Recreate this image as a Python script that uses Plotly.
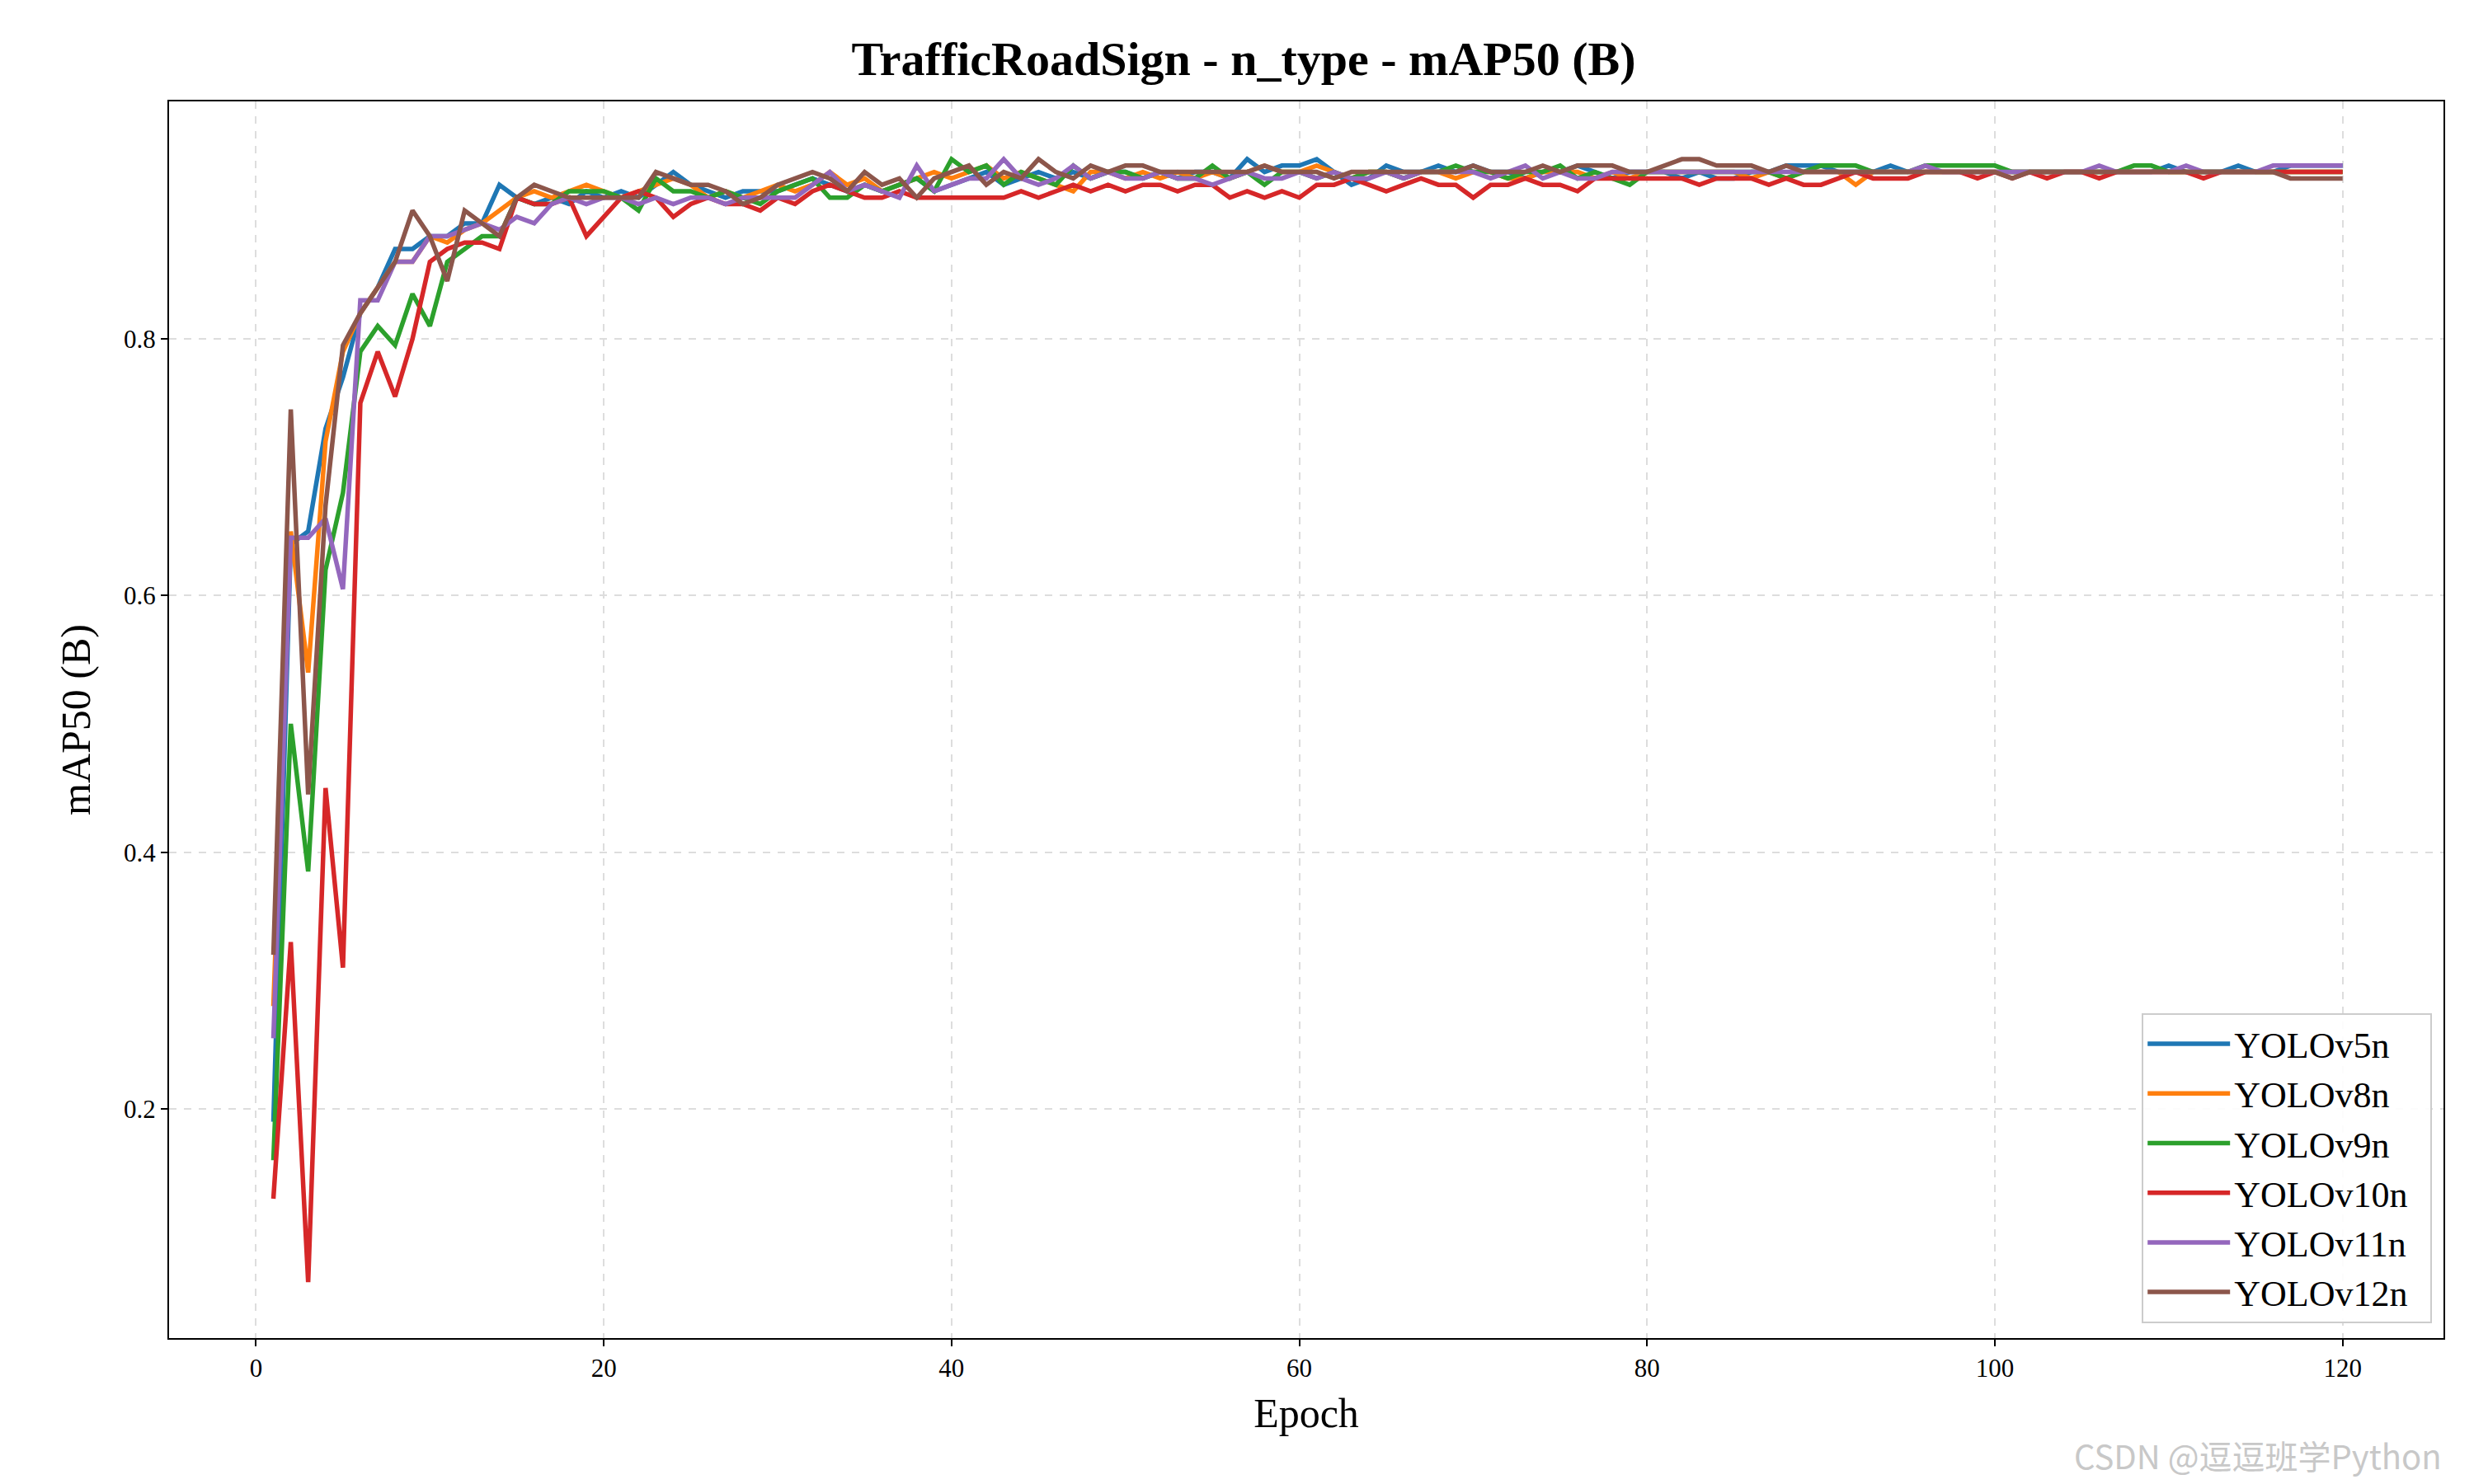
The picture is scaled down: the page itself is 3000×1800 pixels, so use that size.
import plotly.graph_objects as go

epochs = list(range(1, 121))

yolov5n = [
    0.19, 0.64, 0.65, 0.73, 0.77, 0.82, 0.84, 0.87, 0.87, 0.88,
    0.88, 0.89, 0.89, 0.92, 0.91, 0.905, 0.91, 0.905, 0.915, 0.91,
    0.915, 0.91, 0.92, 0.93, 0.92, 0.915, 0.91, 0.915, 0.915, 0.915,
    0.92, 0.925, 0.92, 0.915, 0.92, 0.915, 0.92, 0.925, 0.915, 0.92,
    0.925, 0.93, 0.92, 0.925, 0.93, 0.925, 0.93, 0.925, 0.93, 0.93,
    0.925, 0.93, 0.925, 0.93, 0.93, 0.925, 0.94, 0.93, 0.935, 0.935,
    0.94, 0.93, 0.92, 0.925, 0.935, 0.93, 0.93, 0.935, 0.93, 0.935,
    0.93, 0.93, 0.925, 0.93, 0.93, 0.935, 0.93, 0.925, 0.93, 0.93,
    0.93, 0.925, 0.93, 0.925, 0.925, 0.93, 0.93, 0.935, 0.935, 0.935,
    0.93, 0.93, 0.93, 0.935, 0.93, 0.93, 0.93, 0.93, 0.93, 0.93,
    0.93, 0.93, 0.93, 0.93, 0.93, 0.93, 0.93, 0.93, 0.93, 0.935,
    0.93, 0.93, 0.93, 0.935, 0.93, 0.93, 0.935, 0.935, 0.935, 0.935,
]
yolov8n = [
    0.28, 0.65, 0.54, 0.72, 0.79, 0.82, 0.84, 0.86, 0.86, 0.88,
    0.875, 0.885, 0.89, 0.9, 0.91, 0.915, 0.91, 0.915, 0.92, 0.915,
    0.91, 0.915, 0.92, 0.925, 0.92, 0.91, 0.915, 0.91, 0.915, 0.92,
    0.915, 0.92, 0.93, 0.92, 0.925, 0.915, 0.92, 0.925, 0.93, 0.925,
    0.93, 0.935, 0.925, 0.93, 0.925, 0.92, 0.915, 0.93, 0.93, 0.925,
    0.93, 0.925, 0.93, 0.925, 0.93, 0.925, 0.93, 0.935, 0.93, 0.93,
    0.935, 0.93, 0.925, 0.93, 0.93, 0.925, 0.93, 0.93, 0.925, 0.93,
    0.93, 0.925, 0.925, 0.93, 0.93, 0.93, 0.925, 0.93, 0.925, 0.93,
    0.93, 0.93, 0.93, 0.93, 0.93, 0.925, 0.93, 0.925, 0.93, 0.93,
    0.93, 0.92, 0.93, 0.93, 0.93, 0.93, 0.93, 0.93, 0.93, 0.93,
    0.93, 0.93, 0.93, 0.93, 0.93, 0.93, 0.93, 0.93, 0.93, 0.93,
    0.93, 0.93, 0.93, 0.93, 0.93, 0.93, 0.93, 0.93, 0.93, 0.93,
]
yolov9n = [
    0.16, 0.50, 0.385, 0.62, 0.68, 0.79, 0.81, 0.795, 0.835, 0.81,
    0.86, 0.87, 0.88, 0.88, 0.91, 0.905, 0.905, 0.915, 0.915, 0.915,
    0.91, 0.9, 0.925, 0.915, 0.915, 0.91, 0.915, 0.91, 0.905, 0.915,
    0.92, 0.925, 0.91, 0.91, 0.92, 0.915, 0.92, 0.925, 0.915, 0.94,
    0.93, 0.935, 0.92, 0.93, 0.925, 0.92, 0.935, 0.925, 0.93, 0.93,
    0.925, 0.93, 0.925, 0.925, 0.935, 0.925, 0.93, 0.92, 0.93, 0.93,
    0.925, 0.93, 0.925, 0.93, 0.93, 0.925, 0.93, 0.93, 0.935, 0.93,
    0.93, 0.925, 0.93, 0.93, 0.935, 0.925, 0.93, 0.925, 0.92, 0.93,
    0.93, 0.93, 0.93, 0.93, 0.93, 0.93, 0.93, 0.925, 0.93, 0.935,
    0.935, 0.935, 0.93, 0.93, 0.93, 0.935, 0.935, 0.935, 0.935, 0.935,
    0.93, 0.93, 0.93, 0.93, 0.93, 0.93, 0.93, 0.935, 0.935, 0.93,
    0.93, 0.93, 0.93, 0.93, 0.93, 0.93, 0.93, 0.93, 0.93, 0.93,
]
yolov10n = [
    0.13, 0.33, 0.065, 0.45, 0.31, 0.75, 0.79, 0.755, 0.80, 0.86,
    0.87, 0.875, 0.875, 0.87, 0.91, 0.905, 0.905, 0.91, 0.88, 0.895,
    0.91, 0.915, 0.91, 0.895, 0.905, 0.91, 0.905, 0.905, 0.9, 0.91,
    0.905, 0.915, 0.92, 0.915, 0.91, 0.91, 0.915, 0.91, 0.91, 0.91,
    0.91, 0.91, 0.91, 0.915, 0.91, 0.915, 0.92, 0.915, 0.92, 0.915,
    0.92, 0.92, 0.915, 0.92, 0.92, 0.91, 0.915, 0.91, 0.915, 0.91,
    0.92, 0.92, 0.925, 0.92, 0.915, 0.92, 0.925, 0.92, 0.92, 0.91,
    0.92, 0.92, 0.925, 0.92, 0.92, 0.915, 0.925, 0.925, 0.925, 0.925,
    0.925, 0.925, 0.92, 0.925, 0.925, 0.925, 0.92, 0.925, 0.92, 0.92,
    0.925, 0.93, 0.925, 0.925, 0.925, 0.93, 0.93, 0.93, 0.925, 0.93,
    0.925, 0.93, 0.925, 0.93, 0.93, 0.925, 0.93, 0.93, 0.93, 0.93,
    0.93, 0.925, 0.93, 0.93, 0.93, 0.93, 0.93, 0.93, 0.93, 0.93,
]
yolov11n = [
    0.255, 0.645, 0.645, 0.66, 0.605, 0.83, 0.83, 0.86, 0.86, 0.88,
    0.88, 0.885, 0.89, 0.885, 0.895, 0.89, 0.905, 0.91, 0.905, 0.91,
    0.91, 0.905, 0.91, 0.905, 0.91, 0.91, 0.905, 0.91, 0.91, 0.91,
    0.91, 0.92, 0.93, 0.915, 0.92, 0.915, 0.91, 0.935, 0.915, 0.92,
    0.925, 0.925, 0.94, 0.925, 0.92, 0.925, 0.935, 0.925, 0.93, 0.925,
    0.925, 0.93, 0.925, 0.925, 0.92, 0.925, 0.93, 0.925, 0.925, 0.93,
    0.925, 0.93, 0.925, 0.925, 0.93, 0.925, 0.93, 0.93, 0.93, 0.93,
    0.925, 0.93, 0.935, 0.925, 0.93, 0.925, 0.925, 0.93, 0.93, 0.93,
    0.93, 0.93, 0.93, 0.93, 0.93, 0.93, 0.93, 0.93, 0.93, 0.93,
    0.93, 0.93, 0.93, 0.93, 0.93, 0.935, 0.93, 0.93, 0.93, 0.93,
    0.93, 0.93, 0.93, 0.93, 0.93, 0.935, 0.93, 0.93, 0.93, 0.93,
    0.935, 0.93, 0.93, 0.93, 0.93, 0.935, 0.935, 0.935, 0.935, 0.935,
]
yolov12n = [
    0.32, 0.745, 0.445, 0.67, 0.795, 0.82, 0.84, 0.86, 0.90, 0.88,
    0.845, 0.90, 0.89, 0.88, 0.91, 0.92, 0.915, 0.91, 0.91, 0.91,
    0.91, 0.91, 0.93, 0.925, 0.92, 0.92, 0.915, 0.905, 0.91, 0.92,
    0.925, 0.93, 0.925, 0.915, 0.93, 0.92, 0.925, 0.91, 0.925, 0.93,
    0.935, 0.92, 0.93, 0.925, 0.94, 0.93, 0.925, 0.935, 0.93, 0.935,
    0.935, 0.93, 0.93, 0.93, 0.93, 0.93, 0.93, 0.935, 0.93, 0.93,
    0.93, 0.925, 0.93, 0.93, 0.93, 0.93, 0.93, 0.93, 0.93, 0.935,
    0.93, 0.93, 0.93, 0.935, 0.93, 0.935, 0.935, 0.935, 0.93, 0.93,
    0.935, 0.94, 0.94, 0.935, 0.935, 0.935, 0.93, 0.935, 0.93, 0.93,
    0.93, 0.93, 0.93, 0.93, 0.93, 0.93, 0.93, 0.93, 0.93, 0.93,
    0.925, 0.93, 0.93, 0.93, 0.93, 0.93, 0.93, 0.93, 0.93, 0.93,
    0.93, 0.93, 0.93, 0.93, 0.93, 0.93, 0.925, 0.925, 0.925, 0.925,
]

series = [
    ("YOLOv5n", yolov5n, "#1f77b4"),
    ("YOLOv8n", yolov8n, "#ff7f0e"),
    ("YOLOv9n", yolov9n, "#2ca02c"),
    ("YOLOv10n", yolov10n, "#d62728"),
    ("YOLOv11n", yolov11n, "#9467bd"),
    ("YOLOv12n", yolov12n, "#8c564b"),
]

FONT = "Liberation Serif"

fig = go.Figure()
for name, vals, color in series:
    fig.add_trace(go.Scatter(x=epochs, y=vals, mode="lines", name=name + "  ",
                             line=dict(color=color, width=5.5)))

axis_common = dict(
    showline=True, linecolor="black", linewidth=2, mirror=True,
    ticks="outside", ticklen=8, tickwidth=2, tickcolor="black",
    showgrid=True, gridcolor="#dddddd", gridwidth=2, griddash="dash",
    zeroline=False, tickfont=dict(family=FONT, size=31, color="black"),
)

fig.update_layout(
    width=3000, height=1800,
    paper_bgcolor="white", plot_bgcolor="white",
    margin=dict(l=197, r=45, t=115, b=185),
    title=dict(text="<b>TrafficRoadSign - n_type - mAP50 (B)</b>",
               x=0.5, xanchor="center", y=0.965, yanchor="middle",
               font=dict(family=FONT, size=58, color="black")),
    xaxis=dict(axis_common, range=[-5, 125.8], tickvals=[0, 20, 40, 60, 80, 100, 120],
               title=dict(text="Epoch", font=dict(family=FONT, size=50, color="black"), standoff=20)),
    yaxis=dict(axis_common, range=[0.0214, 0.985], tickvals=[0.2, 0.4, 0.6, 0.8],
               tickformat=".1f",
               title=dict(text="mAP50 (B)", font=dict(family=FONT, size=50, color="black"), standoff=25)),
    legend=dict(x=0.995, y=0.012, xanchor="right", yanchor="bottom",
                bgcolor="rgba(255,255,255,0.9)", bordercolor="#cccccc", borderwidth=2,
                font=dict(family=FONT, size=44, color="black"), itemwidth=100,
                tracegroupgap=0),
    showlegend=True,
)

fig.add_annotation(text="CSDN @逗逗班学Python", xref="paper", yref="paper",
                   x=1.0, y=-0.115, xanchor="right", yanchor="bottom", showarrow=False,
                   font=dict(family="Noto Sans CJK SC", size=40, color="#c8c8c8"))

fig.write_html("out.html")
